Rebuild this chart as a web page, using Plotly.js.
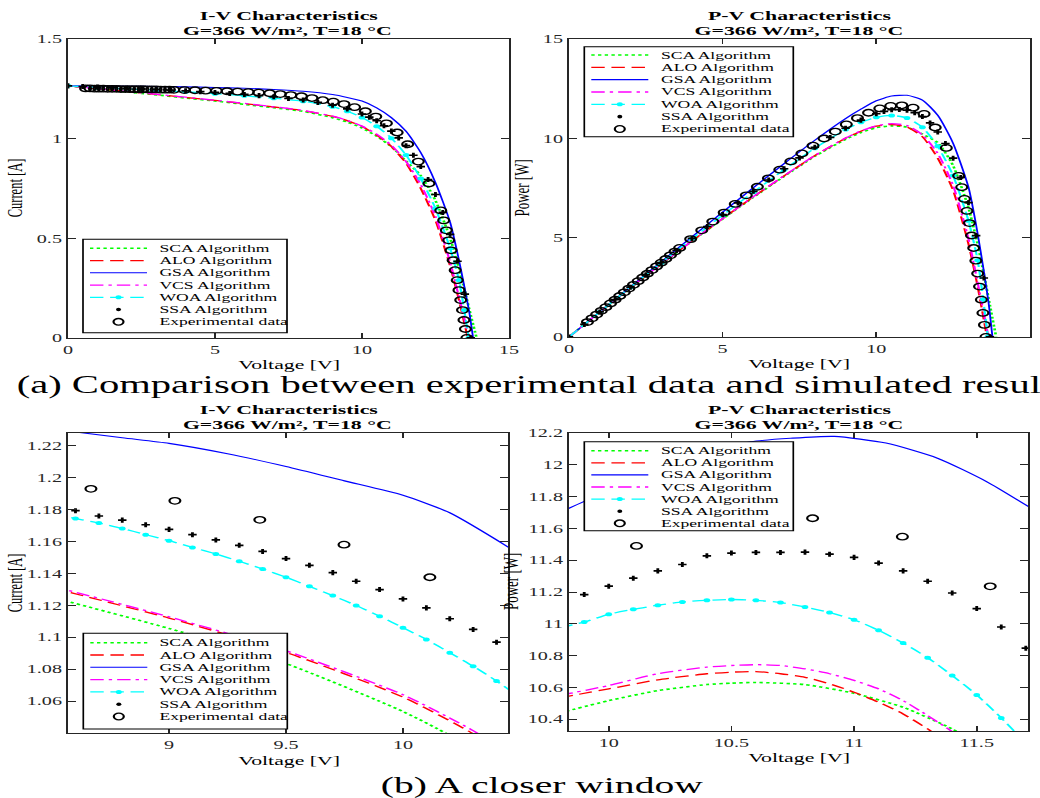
<!DOCTYPE html>
<html><head><meta charset="utf-8">
<script src="https://cdn.plot.ly/plotly-3.0.1.min.js"></script>
<style>
html,body{margin:0;padding:0;background:#fff;overflow:hidden;width:1040px;height:798px}
#wrap{position:absolute;left:0;top:0;width:1040px;height:798px;overflow:hidden;background:#fff}
#chart{position:absolute;left:0;top:0;width:620px;height:798px;transform:scaleX(1.67742);transform-origin:0 0}
</style></head><body><div id="wrap"><div id="chart"></div></div>
<script>
// ---------------- DATA ----------------
// (a) full range, I-V
const vSCA = [0,1,2,3,4,5,6,7,8,9,9.5,10,10.5,11,11.5,12,12.5,13,13.3,13.5,13.7,13.9];
const iSCA = [1.265,1.25,1.235,1.22,1.204,1.189,1.172,1.155,1.137,1.1055,1.0835,1.0535,1.012,0.9603,0.888,0.815,0.69,0.5,0.35,0.235,0.115,0];
const pSCA = [0,1.25,2.47,3.66,4.816,5.945,7.032,8.085,9.096,9.95,10.293,10.535,10.626,10.563,10.212,9.78,8.625,6.5,4.655,3.173,1.576,0];
const vALO = [0,1,2,3,4,5,6,7,8,9,9.5,10,10.5,11,11.5,12,12.5,13,13.3,13.6];
const iALO = [1.265,1.251,1.237,1.222,1.207,1.192,1.176,1.159,1.141,1.112,1.0905,1.0615,1.0187,0.9609,0.8765,0.75,0.59,0.36,0.19,0];
const pALO = [0,1.251,2.474,3.666,4.828,5.96,7.056,8.113,9.128,10.008,10.36,10.615,10.696,10.57,10.08,9.0,7.375,4.68,2.527,0];
const vGSA = [0,1,2,3,4,5,6,7,8,9,9.5,10,10.5,11,11.5,12,12.5,13,13.3,13.5,13.65,13.78];
const iGSA = [1.265,1.264,1.263,1.262,1.26,1.257,1.253,1.247,1.238,1.2215,1.207,1.189,1.155,1.106,1.037,0.93,0.78,0.58,0.39,0.245,0.13,0];
const pGSA = [0,1.264,2.526,3.786,5.04,6.285,7.518,8.729,9.904,10.994,11.467,11.89,12.128,12.166,11.926,11.16,9.75,7.54,5.187,3.308,1.775,0];
const vVCS = [0,1,2,3,4,5,6,7,8,9,9.5,10,10.5,11,11.5,12,12.5,13,13.3,13.65];
const iVCS = [1.265,1.251,1.237,1.223,1.208,1.193,1.177,1.16,1.142,1.1128,1.0915,1.063,1.0227,0.9676,0.885,0.77,0.61,0.38,0.205,0];
const pVCS = [0,1.251,2.474,3.669,4.832,5.965,7.062,8.12,9.136,10.015,10.369,10.63,10.738,10.644,10.178,9.24,7.625,4.94,2.727,0];
const vWOA = [0,1,2,3,4,5,6,7,8,9,9.5,10,10.5,11,11.5,12,12.5,13,13.3,13.48,13.63];
const iWOA = [1.265,1.257,1.25,1.243,1.235,1.226,1.215,1.203,1.188,1.1605,1.1376,1.106,1.0622,1.0024,0.9177,0.8,0.65,0.45,0.29,0.14,0];
const pWOA = [0,1.257,2.5,3.729,4.94,6.13,7.29,8.421,9.504,10.445,10.807,11.06,11.153,11.026,10.554,9.6,8.125,5.85,3.857,1.887,0];
const vSSA = [0,0.5,1,1.5,2,2.5,3,3.5,4,4.5,5,5.5,6,6.5,7,7.5,8,8.5,9,9.5,10,10.25,10.5,10.75,11,11.25,11.5,11.75,12,12.25,12.5,12.75,13,13.25,13.5,13.7];
const iSSA = [1.265,1.262,1.259,1.256,1.253,1.25,1.247,1.244,1.24,1.236,1.232,1.227,1.222,1.216,1.21,1.202,1.194,1.182,1.1676,1.1493,1.124,1.108,1.09,1.065,1.038,1.004,0.965,0.917,0.86,0.795,0.72,0.63,0.52,0.385,0.22,0];
const pSSA = [0,0.631,1.259,1.884,2.506,3.125,3.741,4.354,4.96,5.562,6.16,6.749,7.332,7.904,8.47,9.015,9.552,10.047,10.508,10.918,11.24,11.357,11.445,11.449,11.418,11.295,11.098,10.775,10.32,9.739,9.0,8.033,6.76,5.101,2.97,0];
const vEXP = [0.6,0.75,0.9,1.05,1.2,1.35,1.5,1.65,1.8,1.95,2.1,2.25,2.4,2.55,2.7,2.85,3.0,3.15,3.3,3.45,3.6,3.96,4.32,4.68,5.05,5.41,5.77,6.13,6.49,6.86,7.22,7.58,7.94,8.3,8.666,9.025,9.388,9.748,10.115,10.47,10.831,11.197,11.555,11.917,12.279,12.68,12.78,12.87,12.95,13.03,13.1,13.17,13.24,13.3,13.36,13.42,13.47,13.52,13.57];
const iEXP = [1.252,1.252,1.251,1.251,1.251,1.25,1.25,1.25,1.249,1.249,1.249,1.248,1.248,1.248,1.247,1.247,1.247,1.246,1.246,1.246,1.245,1.244,1.243,1.241,1.24,1.238,1.236,1.234,1.231,1.228,1.224,1.219,1.213,1.204,1.193,1.1855,1.1736,1.158,1.1376,1.111,1.077,1.031,0.972,0.885,0.775,0.64,0.59,0.54,0.49,0.44,0.39,0.34,0.29,0.24,0.19,0.14,0.09,0.045,0];
const pEXP = [0.751,0.939,1.126,1.314,1.501,1.688,1.875,2.063,2.248,2.436,2.623,2.808,2.995,3.182,3.367,3.554,3.741,3.925,4.112,4.299,4.482,4.926,5.37,5.808,6.262,6.698,7.132,7.564,7.989,8.424,8.837,9.24,9.631,9.993,10.339,10.699,11.018,11.288,11.507,11.632,11.665,11.544,11.231,10.547,9.516,8.115,7.54,6.95,6.346,5.733,5.109,4.478,3.84,3.192,2.538,1.879,1.212,0.608,0];

// (b) closer window, I-V
const zvSCA = [8.5,9.0,9.5,10.0,10.2,10.5];
const ziSCA = [1.125,1.1055,1.0835,1.0535,1.0385,1.012];
const zvALO = [8.5,9.0,9.5,10.0,10.3,10.5];
const ziALO = [1.131,1.112,1.0905,1.0625,1.0395,1.0187];
const zvGSA = [8.5,8.8,9.0,9.25,9.5,9.75,10.0,10.2,10.5];
const ziGSA = [1.2305,1.225,1.2215,1.215,1.207,1.198,1.189,1.178,1.152];
const zvVCS = [8.5,9.0,9.5,10.0,10.3,10.5];
const ziVCS = [1.132,1.1128,1.0915,1.064,1.0415,1.0227];
const zvWOA = [8.5,8.6,8.7,8.8,8.9,9.0,9.1,9.2,9.3,9.4,9.5,9.6,9.7,9.8,9.9,10.0,10.1,10.2,10.3,10.4,10.5];
const ziWOA = [1.1775,1.1744,1.1716,1.1682,1.1643,1.1605,1.1563,1.1522,1.1476,1.1428,1.1376,1.1319,1.1261,1.1199,1.1132,1.106,1.0986,1.0903,1.0819,1.0726,1.0622];
const zvSSA = [8.6,8.7,8.8,8.9,9.0,9.1,9.2,9.3,9.4,9.5,9.6,9.7,9.8,9.9,10.0,10.1,10.2,10.3,10.4];
const ziSSA = [1.1793,1.176,1.1734,1.1705,1.1676,1.1643,1.161,1.1576,1.1538,1.1493,1.1451,1.1405,1.1351,1.1299,1.124,1.1184,1.1116,1.1049,1.0969];
const zvEXP = [8.666,9.025,9.388,9.748,10.115];
const ziEXP = [1.193,1.1855,1.1736,1.158,1.1376];

// (b) closer window, P-V
const wvSCA = [9.8,10.0,10.2,10.4,10.5,10.6,10.8,11.0,11.2,11.4,11.5];
const wpSCA = [10.44,10.517,10.58,10.618,10.627,10.631,10.618,10.563,10.475,10.339,10.25];
const wvALO = [9.8,10.0,10.2,10.4,10.5,10.6,10.7,10.8,10.9,11.0,11.1,11.2,11.3,11.4];
const wpALO = [10.535,10.591,10.648,10.686,10.696,10.7,10.686,10.664,10.623,10.57,10.507,10.433,10.339,10.23];
const wvGSA = [9.8,9.9,10.25,10.58,10.75,10.92,11.13,11.34,11.54,11.75];
const wpGSA = [11.7,11.77,12.005,12.145,12.168,12.179,12.137,12.042,11.895,11.7];
const wvVCS = [9.8,10.0,10.2,10.4,10.5,10.6,10.7,10.8,10.9,11.0,11.1,11.2,11.3,11.4,11.5];
const wpVCS = [10.55,10.612,10.686,10.728,10.738,10.743,10.738,10.717,10.686,10.644,10.591,10.517,10.423,10.322,10.2];
const wvWOA = [9.8,9.9,10.0,10.1,10.2,10.3,10.4,10.5,10.6,10.7,10.8,10.9,11.0,11.1,11.2,11.3,11.4,11.5,11.6,11.7];
const wpWOA = [10.975,11.011,11.06,11.091,11.117,11.138,11.148,11.153,11.148,11.134,11.106,11.071,11.026,10.959,10.879,10.787,10.675,10.553,10.408,10.25];
const wvSSA = [9.9,10.0,10.1,10.2,10.3,10.4,10.5,10.6,10.7,10.8,10.9,11.0,11.1,11.2,11.3,11.4,11.5,11.6,11.7];
const wpSSA = [11.184,11.237,11.287,11.333,11.373,11.428,11.445,11.449,11.449,11.451,11.438,11.418,11.382,11.333,11.268,11.194,11.096,10.98,10.847];
const wvEXP = [10.113,10.831,11.197,11.555];
const wpEXP = [11.49,11.664,11.548,11.236];

// tick labels
const tickA_V = [0,5,10,15], tickA_Vtxt = ['0','5','10','15'];
const tickA_I = [0,0.5,1,1.5], tickA_Itxt = ['0','0.5','1','1.5'];
const tickA_P = [0,5,10,15], tickA_Ptxt = ['0','5','10','15'];
const tickB_V1 = [9,9.5,10], tickB_V1txt = ['9','9.5','10'];
const tickB_I = [1.06,1.08,1.1,1.12,1.14,1.16,1.18,1.2,1.22], tickB_Itxt = ['1.06','1.08','1.1','1.12','1.14','1.16','1.18','1.2','1.22'];
const tickB_V2 = [10,10.5,11,11.5], tickB_V2txt = ['10','10.5','11','11.5'];
const tickB_P = [10.4,10.6,10.8,11,11.2,11.4,11.6,11.8,12,12.2], tickB_Ptxt = ['10.4','10.6','10.8','11','11.2','11.4','11.6','11.8','12','12.2'];

const legendNames = ['SCA Algorithm','ALO Algorithm','GSA Algorithm','VCS Algorithm','WOA Algorithm','SSA Algorithm','Experimental data'];

// ---------------- STYLE ----------------
const FONT = '"Liberation Serif","Times New Roman",Times,serif';
const W = 1040, H = 798;
const X = px => px / W;
const Y = py => 1 - py / H;
const AXC = '#262626';

const ST = {
  SCA:{mode:'lines', line:{color:'#00ff00', width:1.6, dash:'2px,2px', shape:'spline', smoothing:0.6}},
  ALO:{mode:'lines', line:{color:'#ff0000', width:1.3, dash:'8px,4px', shape:'spline', smoothing:0.6}},
  GSA:{mode:'lines', line:{color:'#0000ff', width:1.1, shape:'spline', smoothing:0.6}},
  VCS:{mode:'lines', line:{color:'#ff00ff', width:1.3, dash:'8px,3px,2px,3px', shape:'spline', smoothing:0.6}},
  WOA:{mode:'lines+markers', line:{color:'#00ffff', width:1.3, dash:'8px,4px', shape:'spline', smoothing:0.6}, marker:{color:'#00ffff', size:4, symbol:'circle'}},
  SSA:{mode:'markers', marker:{color:'#000000', size:4.2, symbol:'cross', line:{width:0}}},
  EXP:{mode:'markers', marker:{color:'#000000', size:6.5, symbol:'circle-open', line:{width:1.3, color:'#000000'}}}
};
function tr(x, y, key, ax){
  const s = JSON.parse(JSON.stringify(ST[key]));
  return Object.assign({type:'scatter', x:x, y:y, xaxis:'x'+ax, yaxis:'y'+ax, showlegend:false, hoverinfo:'skip', cliponaxis:true}, s);
}
const data = [
  tr(vSCA,iSCA,'SCA',''), tr(vALO,iALO,'ALO',''), tr(vGSA,iGSA,'GSA',''), tr(vVCS,iVCS,'VCS',''), tr(vWOA,iWOA,'WOA',''), tr(vSSA,iSSA,'SSA',''), tr(vEXP,iEXP,'EXP',''),
  tr(vSCA,pSCA,'SCA','2'), tr(vALO,pALO,'ALO','2'), tr(vGSA,pGSA,'GSA','2'), tr(vVCS,pVCS,'VCS','2'), tr(vWOA,pWOA,'WOA','2'), tr(vSSA,pSSA,'SSA','2'), tr(vEXP,pEXP,'EXP','2'),
  tr(zvSCA,ziSCA,'SCA','3'), tr(zvALO,ziALO,'ALO','3'), tr(zvGSA,ziGSA,'GSA','3'), tr(zvVCS,ziVCS,'VCS','3'), tr(zvWOA,ziWOA,'WOA','3'), tr(zvSSA,ziSSA,'SSA','3'), tr(zvEXP,ziEXP,'EXP','3'),
  tr(wvSCA,wpSCA,'SCA','4'), tr(wvALO,wpALO,'ALO','4'), tr(wvGSA,wpGSA,'GSA','4'), tr(wvVCS,wpVCS,'VCS','4'), tr(wvWOA,wpWOA,'WOA','4'), tr(wvSSA,wpSSA,'SSA','4'), tr(wvEXP,wpEXP,'EXP','4')
];

function axis(dom, anchor, range, tv, tt){
  return {domain:dom, anchor:anchor, range:range, tickmode:'array', tickvals:tv, ticktext:tt,
    showline:true, linecolor:AXC, linewidth:1.2, mirror:'ticks', ticks:'inside', ticklen:5, tickwidth:1, tickcolor:AXC,
    showgrid:false, zeroline:false, fixedrange:true, automargin:false,
    tickfont:{family:FONT, size:12, color:AXC}};
}
const layout = {
  width:620, height:798, margin:{l:0,r:0,t:0,b:0}, paper_bgcolor:'#ffffff', plot_bgcolor:'#ffffff', showlegend:false,
  font:{family:FONT, color:'#000'},
  xaxis:  axis([X(68),X(509)], 'y',  [0,15.002], tickA_V, tickA_Vtxt),
  yaxis:  axis([Y(338),Y(39)], 'x',  [-0.0002,1.5002], tickA_I, tickA_Itxt),
  xaxis2: axis([X(569),X(1030)], 'y2', [0,15.002], tickA_V, tickA_Vtxt),
  yaxis2: axis([Y(337),Y(39)], 'x2', [-0.002,15.002], tickA_P, tickA_Ptxt),
  xaxis3: axis([X(68),X(508)], 'y3', [8.568,10.449], tickB_V1, tickB_V1txt),
  yaxis3: axis([Y(733),Y(433)], 'x3', [1.04,1.228], tickB_I, tickB_Itxt),
  xaxis4: axis([X(569),X(1028)], 'y4', [9.838,11.709], tickB_V2, tickB_V2txt),
  yaxis4: axis([Y(731),Y(433)], 'x4', [10.326,12.2003], tickB_P, tickB_Ptxt),
  shapes:[], annotations:[]
};

function ann(text, px, py, size, opts){
  layout.annotations.push(Object.assign({text:text, xref:'paper', yref:'paper', x:X(px), y:Y(py), showarrow:false,
    xanchor:'center', yanchor:'middle', font:{family:FONT, size:size, color:'#000'}}, opts||{}));
}
// subplot titles
[[288.5,15,'I-V'],[799.5,15,'P-V'],[288,409,'I-V'],[799,409,'P-V']].forEach(t=>{
  ann('<b>'+t[2]+' Characteristics</b>', t[0], t[1], 13);
  ann('<b>G=366 W/m², T=18 °C</b>', t[0], t[1]+15, 13);
});
// axis titles
ann('Voltage [V]', 289.5, 364, 13); ann('Voltage [V]', 800, 363, 13);
ann('Voltage [V]', 289.5, 760, 13); ann('Voltage [V]', 799.5, 757, 13);
ann('Current [A]', 0.5, 188, 12.5, {textangle:-90, xanchor:'left'}); ann('Power [W]', 521, 188, 13, {textangle:-90});
ann('Current [A]', 0.5, 583, 12.5, {textangle:-90, xanchor:'left'}); ann('Power [W]', 510, 582, 13, {textangle:-90});
// captions (the reference shows the first caption cut at the right page edge)
ann('(a) Comparison between experimental data and simulated resul', 13, 385, 24.2, {xanchor:'left'});
ann('(b) A closer window', 378, 785, 23.6, {xanchor:'left'});

// legends (drawn as boxes, samples and text)
const legBoxes = [
  {x0:83, y0:239.3, x1:287, y1:332.7, r0:248.3, dr:12.25},
  {x0:584.3, y0:46.7, x1:793.3, y1:136.7, r0:55, dr:12.33},
  {x0:83.3, y0:633.3, x1:287.3, y1:729, r0:642.7, dr:12.3},
  {x0:584.3, y0:441.7, x1:793.3, y1:530.7, r0:450.7, dr:12.1}
];
const legKeys = ['SCA','ALO','GSA','VCS','WOA','SSA','EXP'];
function sh(o){ layout.shapes.push(Object.assign({xref:'paper', yref:'paper', layer:'above'}, o)); }
legBoxes.forEach(b=>{
  sh({type:'rect', x0:X(b.x0), x1:X(b.x1), y0:Y(b.y1), y1:Y(b.y0), line:{color:'#000', width:1}, fillcolor:'#ffffff'});
  legKeys.forEach((k,i)=>{
    const yy = b.r0 + i*b.dr, la = b.x0+7, lb = b.x0+64, cx = (la+lb)/2;
    if(ST[k].line){
      sh({type:'line', x0:X(la), x1:X(lb), y0:Y(yy), y1:Y(yy), line:{color:ST[k].line.color, width:ST[k].line.width, dash:ST[k].line.dash||'solid'}});
    }
    if(k==='WOA') sh({type:'circle', x0:X(cx-3), x1:X(cx+3), y0:Y(yy+2), y1:Y(yy-2), line:{color:'#00ffff', width:0}, fillcolor:'#00ffff'});
    if(k==='SSA') sh({type:'circle', x0:X(cx-2.5), x1:X(cx+2.5), y0:Y(yy+1.8), y1:Y(yy-1.8), line:{color:'#000', width:0}, fillcolor:'#000'});
    if(k==='EXP') sh({type:'circle', x0:X(cx-5), x1:X(cx+5), y0:Y(yy+3.3), y1:Y(yy-3.3), line:{color:'#000', width:1.3}, fillcolor:'rgba(0,0,0,0)'});
    ann(legendNames[i], b.x0+73, yy, 10.5, {xanchor:'left'});
  });
});

Plotly.newPlot('chart', data, layout, {staticPlot:true, responsive:false, displayModeBar:false});
</script></body></html>
